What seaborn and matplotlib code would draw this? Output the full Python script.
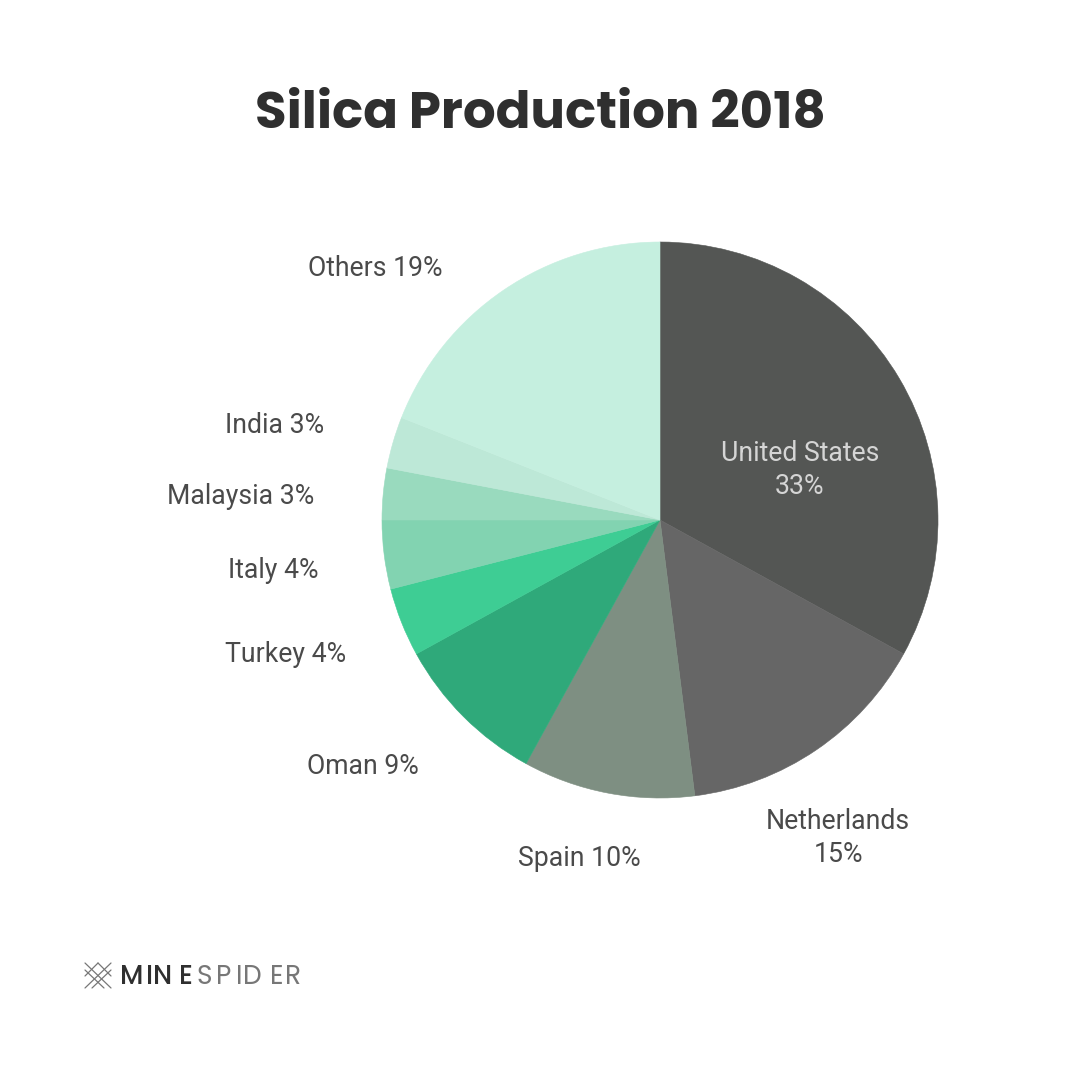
import matplotlib
matplotlib.use('Agg')
import matplotlib.pyplot as plt
from matplotlib.lines import Line2D
import seaborn as sns

sns.set_theme(style='white')
plt.rcParams['font.family'] = ['Roboto', 'DejaVu Sans']

countries = ['United States', 'Netherlands', 'Spain', 'Oman', 'Turkey', 'Italy', 'Malaysia', 'India', 'Others']
shares = [33, 15, 10, 9, 4, 4, 3, 3, 19]
slice_colors = ['#545654', '#666666', '#7e8f82', '#2fa97a', '#3ecd94', '#82d3b1', '#99dabe', '#bde8d7', '#c5efdf']
slice_labels = ['United States\n33%', 'Netherlands\n15%', 'Spain 10%', 'Oman 9%', 'Turkey 4%', 'Italy 4%', 'Malaysia 3%', 'India 3%', 'Others 19%']

fig = plt.figure(figsize=(10.8, 10.8), dpi=100)
ax = fig.add_axes([382 / 1080, 1 - 798 / 1080, 556 / 1080, 556 / 1080])
wedges, _ = ax.pie(shares, colors=slice_colors, startangle=90, counterclock=False, radius=1)
# same colour edge hides the hairline seams between slices
for w, c in zip(wedges, slice_colors):
    w.set_edgecolor(c)
    w.set_linewidth(0.4)
ax.set_xlim(-1, 1)
ax.set_ylim(-1, 1)
ax.set_aspect('equal')

# label positions in pixels of the 1080 image
label_pos = [(800, 470), (838, 838), (579, 859), (363, 767), (286, 655), (273, 571), (241, 496), (275, 425), (375, 269)]
for lab, (px, py) in zip(slice_labels, label_pos):
    col = '#d5d5d5' if lab.startswith('United') else '#4a4a4a'
    fig.text(px / 1080, 1 - py / 1080, lab, ha='center', va='center', fontsize=19.2, color=col, linespacing=1.32)

fig.text(540 / 1080, 1 - 116 / 1080, 'Silica Production 2018', ha='center', va='center',
         fontsize=37, fontweight='bold', color='#2f2f2f', family=['Poppins', 'Roboto', 'DejaVu Sans'])

# logo wordmark, letters spaced out by hand
logo_letters = list('MINESPIDER')
logo_x = [120, 146, 153, 179, 196, 216, 236, 243, 270, 285]
for i, (ch, px) in enumerate(zip(logo_letters, logo_x)):
    fig.text(px / 1080, 1 - 984 / 1080, ch, ha='left', va='baseline', fontsize=19,
             fontweight='medium' if i < 4 else 'normal',
             color='#2f2f2f' if i < 4 else '#777777',
             family=['Poppins', 'Roboto', 'DejaVu Sans'])

# logo icon: crossed strokes plus small diamond
icon_lines = [((85, 963), (111, 988)), ((85, 970), (104, 988)), ((111, 963), (85, 988)), ((111, 970), (92, 988)),
              ((98, 963), (85, 976)), ((98, 963), (111, 976))]
for (x0, y0), (x1, y1) in icon_lines:
    fig.add_artist(Line2D([x0 / 1080, x1 / 1080], [1 - y0 / 1080, 1 - y1 / 1080], color='#777777', lw=0.9))

fig.savefig('out.png', dpi=100, facecolor='white')
